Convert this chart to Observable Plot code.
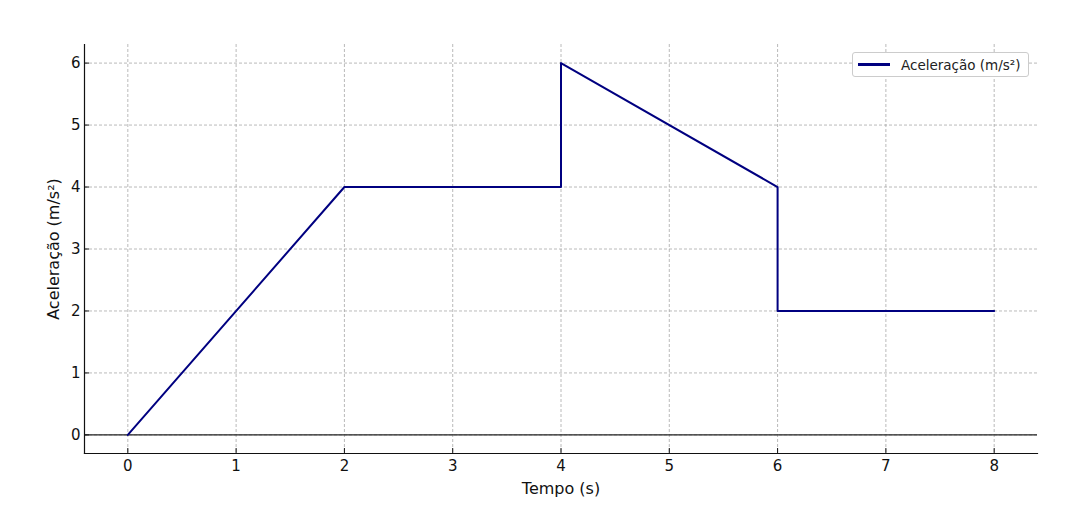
<!DOCTYPE html>
<html><head><meta charset="utf-8">
<script src="https://cdn.jsdelivr.net/npm/d3@7"></script>
<script src="https://cdn.jsdelivr.net/npm/@observablehq/plot@0.6"></script>
<style>
body{margin:0;background:#fff;font-family:"DejaVu Sans",sans-serif;}
#wrap{position:relative;width:1080px;height:530px;}
#legend{position:absolute;left:852px;top:52px;width:177px;height:25px;box-sizing:border-box;border:1px solid #ccc;border-radius:3px;background:#fff;font:13.5px "DejaVu Sans",sans-serif;color:#222;display:flex;align-items:center;}
#legend span.sw{display:inline-block;width:32px;height:2.5px;background:#000080;margin:0 11px 0 5px;}
</style></head>
<body><div id="wrap"><div id="legend"><span class="sw"></span>Aceleração (m/s²)</div></div>
<script>
const tempo = [0, 2, 4, 4, 6, 6, 8];
const aceleracao = [0, 4, 4, 6, 4, 2, 2];
const xTicks = [0,1,2,3,4,5,6,7,8];
const yTicks = [0,1,2,3,4,5,6];
const data = tempo.map((t,i)=>({t, a: aceleracao[i]}));

const chart = Plot.plot({
  width: 1080, height: 530,
  marginLeft: 84, marginRight: 43, marginTop: 44, marginBottom: 77,
  style: {fontFamily: '"DejaVu Sans", sans-serif', fontSize: "15px", color: "#111"},
  x: {domain: [-0.4, 8.4], ticks: xTicks, label: null},
  y: {domain: [-0.3, 6.3], ticks: yTicks, label: null},
  marks: [
    Plot.gridX(xTicks, {stroke: "#a8a8a8", strokeOpacity: 1, strokeDasharray: "3,2", strokeWidth: 0.8}),
    Plot.gridY(yTicks, {stroke: "#a8a8a8", strokeOpacity: 1, strokeDasharray: "3,2", strokeWidth: 0.8}),
    Plot.ruleY([0], {stroke: "#222", strokeWidth: 1.2}),
    Plot.axisX(xTicks, {tickSize: -5, tickPadding: 12, fontSize: 15, tickFormat: "d", label: "Tempo (s)", labelAnchor: "center", labelArrow: "none", labelOffset: 40}),
    Plot.axisY(yTicks, {tickSize: -5, tickPadding: 9, fontSize: 15, tickFormat: "d", label: "Aceleração (m/s²)", labelAnchor: "center", labelArrow: "none", labelOffset: 37}),
    Plot.frame({anchor: "left", stroke: "#111", strokeWidth: 1.2}),
    Plot.frame({anchor: "bottom", stroke: "#111", strokeWidth: 1.2}),
    Plot.line(data, {x: "t", y: "a", stroke: "#000080", strokeWidth: 2})
  ]
});
chart.querySelectorAll('[aria-label="x-axis label"] text, [aria-label="y-axis label"] text').forEach(t=>t.style.fontSize="16px");
document.getElementById("wrap").prepend(chart);
</script></body></html>
